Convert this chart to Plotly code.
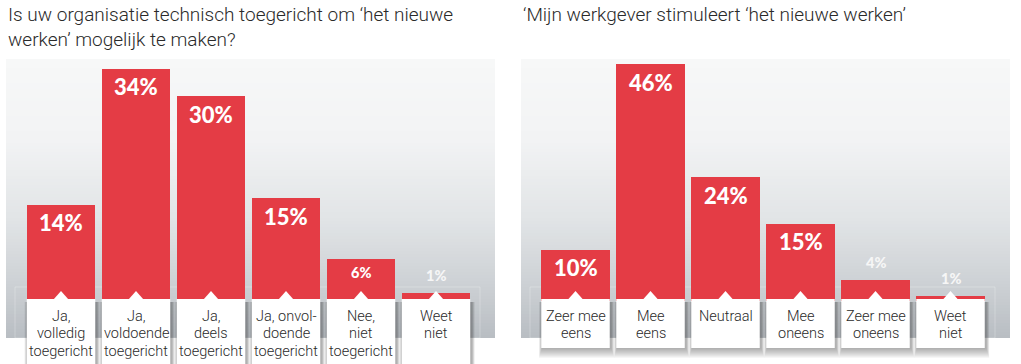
import plotly.graph_objects as go

# ---------------- data ----------------
left_title = ["Is uw organisatie technisch toegericht om ‘het nieuwe", "werken’ mogelijk te maken?"]
left_categories = ["Ja,\nvolledig\ntoegericht", "Ja,\nvoldoende\ntoegericht", "Ja,\ndeels\ntoegericht",
                   "Ja, onvol-\ndoende\ntoegericht", "Nee,\nniet\ntoegericht", "Weet\nniet"]
left_values = [14, 34, 30, 15, 6, 1]

right_title = ["‘Mijn werkgever stimuleert ‘het nieuwe werken’"]
right_categories = ["Zeer mee\neens", "Mee\neens", "Neutraal", "Mee\noneens", "Zeer mee\noneens", "Weet\nniet"]
right_values = [10, 46, 24, 15, 4, 1]

# ---------------- style ----------------
W, H = 1021, 364
RED = "#e43c45"
TXT = "#2a2a2a"
LABEL_FONT = "Roboto, Liberation Sans, sans-serif"
PCT_FONT = "Lato, Open Sans, sans-serif"
BAR_W = 0.913


def yp(p):
    return 1 - p / H


def xp(p):
    return p / W


fig = go.Figure()
fig.add_trace(go.Bar(x=left_categories, y=left_values, width=BAR_W, marker=dict(color=RED, line=dict(width=0)),
                     xaxis="x", yaxis="y", hoverinfo="skip"))
fig.add_trace(go.Bar(x=right_categories, y=right_values, width=BAR_W, marker=dict(color=RED, line=dict(width=0)),
                     xaxis="x2", yaxis="y2", hoverinfo="skip"))

shapes = []
annotations = []


def lerp(c1, c2, t):
    return tuple(int(round(a + (b - a) * t)) for a, b in zip(c1, c2))


stops = [(59, (247, 248, 248)), (140, (242, 243, 244)), (220, (225, 228, 230)),
         (290, (203, 207, 211)), (338, (184, 189, 194))]


def color_at(p):
    for (p1, c1), (p2, c2) in zip(stops[:-1], stops[1:]):
        if p1 <= p <= p2:
            return lerp(c1, c2, (p - p1) / (p2 - p1))
    return stops[-1][1]


for (bx0, bx1) in [(6, 495), (521, 1010)]:
    step = 3
    p = 59
    while p < 338:
        c = color_at(p + step / 2)
        shapes.append(dict(type="rect", xref="paper", yref="paper", x0=xp(bx0), x1=xp(bx1),
                           y0=yp(min(p + step + 0.5, 338)), y1=yp(p), layer="below",
                           line=dict(width=0), fillcolor="rgb(%d,%d,%d)" % c))
        p += step
    # faint inner reflection box
    shapes.append(dict(type="rect", xref="paper", yref="paper", x0=xp(bx0 + 9), x1=xp(bx1 - 15),
                       y0=yp(338), y1=yp(287), layer="below",
                       line=dict(width=1, color="rgba(255,255,255,0.25)"), fillcolor="rgba(0,0,0,0)"))


def add_panel(cats, vals, xref, yref, box_bottom, line_gap):
    for i, (c, v) in enumerate(zip(cats, vals)):
        x0, x1 = i - BAR_W / 2, i + BAR_W / 2
        # soft drop shadow
        for k in range(1, 11):
            shapes.append(dict(type="rect", xref=xref, yref="paper",
                               x0=x0 - 0.004 * k + 0.01, x1=x1 + 0.004 * k + 0.02,
                               y0=yp(box_bottom + k * 1.0), y1=yp(302), layer="above",
                               line=dict(width=0), fillcolor="rgba(40,40,40,0.045)"))
        # white label box
        shapes.append(dict(type="rect", xref=xref, yref="paper", x0=x0, x1=x1,
                           y0=yp(box_bottom), y1=yp(299), layer="above",
                           line=dict(width=0), fillcolor="white"))
        # notch
        d = 7.5 / 75
        shapes.append(dict(type="path", xref=xref, yref="paper",
                           path="M %f,%f L %f,%f L %f,%f Z" % (i - d, yp(299.5), i, yp(291), i + d, yp(299.5)),
                           layer="above", line=dict(width=0), fillcolor="white"))
        for j, line in enumerate(c.split("\n")):
            annotations.append(dict(x=c, y=yp(316 + j * line_gap), xref=xref, yref="paper", yanchor="middle",
                                    xanchor="center", text=line, showarrow=False,
                                    font=dict(family=LABEL_FONT, size=14.5, color=TXT, weight=300)))
        label = "%d%%" % v
        if v >= 10:
            annotations.append(dict(x=c, y=v, xref=xref, yref=yref, yanchor="middle", yshift=-18,
                                    text=label, showarrow=False,
                                    font=dict(family=PCT_FONT, size=22, color="white", weight=900)))
        elif v >= 5:
            annotations.append(dict(x=c, y=v, xref=xref, yref=yref, yanchor="middle", yshift=-13,
                                    text=label, showarrow=False,
                                    font=dict(family=PCT_FONT, size=14.5, color="white", weight=900)))
        else:
            annotations.append(dict(x=c, y=v, xref=xref, yref=yref, yanchor="bottom", yshift=7,
                                    text=label, showarrow=False,
                                    font=dict(family=PCT_FONT, size=14.5, color="#f6f6f6", weight=900)))


add_panel(left_categories, left_values, "x", "y", 368, 17.5)
add_panel(right_categories, right_values, "x2", "y2", 348, 17)

for title, x0 in [(left_title, 6), (right_title, 521)]:
    for j, line in enumerate(title):
        annotations.append(dict(x=xp(x0), y=yp(15 + j * 24.5), xref="paper", yref="paper", xanchor="left",
                                yanchor="middle", align="left", text=line, showarrow=False,
                                font=dict(family=LABEL_FONT, size=19, color=TXT, weight=300)))

axis_common = dict(visible=False, showgrid=False, zeroline=False, fixedrange=True)
fig.update_layout(
    width=W, height=H, margin=dict(l=0, r=0, t=0, b=0),
    paper_bgcolor="white", plot_bgcolor="rgba(0,0,0,0)", showlegend=False,
    xaxis=dict(domain=[0, 1], type="category", range=[-61 / 75, (W - 61) / 75], **axis_common),
    yaxis=dict(domain=[0, 1], range=[(300 - H) / 6.8, 300 / 6.8], **axis_common),
    xaxis2=dict(domain=[0, 1], type="category", range=[-575.5 / 75, (W - 575.5) / 75], overlaying="x",
                anchor="y2", **axis_common),
    yaxis2=dict(domain=[0, 1], range=[(301 - H) / 5.15, 301 / 5.15], overlaying="y", anchor="x2", **axis_common),
    shapes=shapes, annotations=annotations, bargap=0,
)

fig.write_html("out.html", config={"displayModeBar": False},
               post_script="document.body.style.margin='0';")
